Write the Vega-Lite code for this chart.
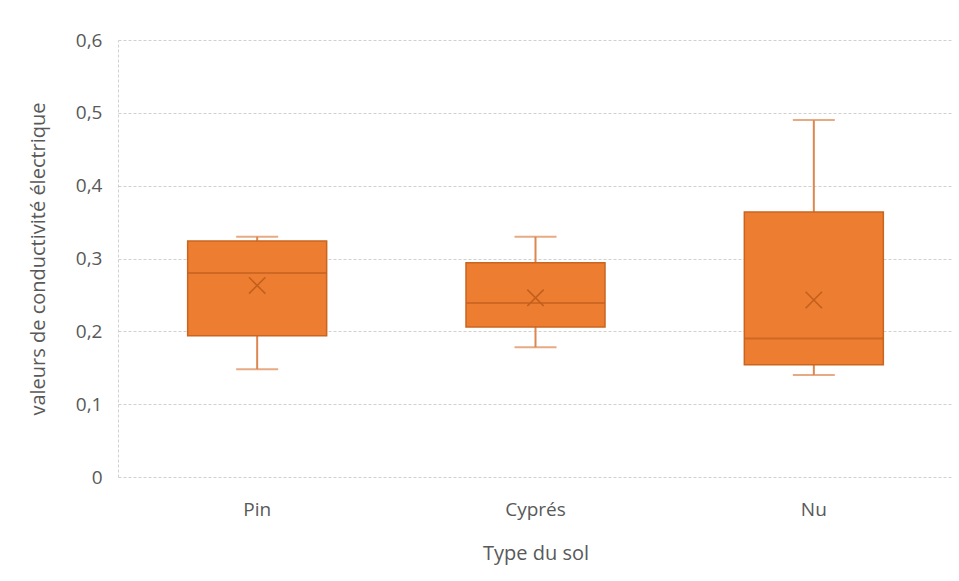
{
  "$schema": "https://vega.github.io/schema/vega-lite/v6.json",
  "autosize": {"type": "none"},
  "padding": {"left": 118, "top": 40, "right": 6, "bottom": 104},
  "width": 835,
  "height": 437,
  "background": "white",
  "data": {
    "values": [
      {"sol": "Pin", "min": 0.148, "q1": 0.194, "median": 0.28, "mean": 0.263, "q3": 0.324, "max": 0.33},
      {"sol": "Cyprés", "min": 0.178, "q1": 0.206, "median": 0.239, "mean": 0.246, "q3": 0.294, "max": 0.33},
      {"sol": "Nu", "min": 0.14, "q1": 0.154, "median": 0.19, "mean": 0.243, "q3": 0.364, "max": 0.49}
    ]
  },
  "encoding": {
    "x": {
      "field": "sol",
      "type": "nominal",
      "sort": null,
      "title": "Type du sol",
      "scale": {"paddingInner": 0, "paddingOuter": 0},
      "axis": {
        "labelAngle": 0,
        "domain": false,
        "ticks": false,
        "labelPadding": 23,
        "titlePadding": 24
      }
    }
  },
  "layer": [
    {
      "mark": {"type": "rule", "color": "#DC8751", "strokeWidth": 2},
      "encoding": {
        "y": {
          "field": "min",
          "type": "quantitative",
          "title": "valeurs de conductivité électrique",
          "scale": {"domain": [0, 0.6], "nice": false},
          "axis": {
            "values": [0, 0.1, 0.2, 0.3, 0.4, 0.5, 0.6],
            "labelExpr": "datum.value == 0 ? '0' : replace(format(datum.value, '.1f'), '.', ',')",
            "ticks": false,
            "labelPadding": 16,
            "titlePadding": 27
          }
        },
        "y2": {"field": "max"}
      }
    },
    {
      "mark": {"type": "tick", "color": "#DC8751", "thickness": 2, "size": 42},
      "encoding": {"y": {"field": "min", "type": "quantitative"}}
    },
    {
      "mark": {"type": "tick", "color": "#DC8751", "thickness": 2, "size": 42},
      "encoding": {"y": {"field": "max", "type": "quantitative"}}
    },
    {
      "mark": {"type": "bar", "color": "#ED7D31", "stroke": "#C9651F", "strokeWidth": 1.5, "width": 139},
      "encoding": {
        "y": {"field": "q1", "type": "quantitative"},
        "y2": {"field": "q3"}
      }
    },
    {
      "mark": {"type": "tick", "color": "#C2601C", "thickness": 2, "size": 139},
      "encoding": {"y": {"field": "median", "type": "quantitative"}}
    },
    {
      "mark": {
        "type": "point",
        "shape": "M-1,-1L1,1M-1,1L1,-1",
        "filled": false,
        "stroke": "#C2601C",
        "strokeWidth": 1.6,
        "size": 270,
        "opacity": 1
      },
      "encoding": {"y": {"field": "mean", "type": "quantitative"}}
    }
  ],
  "config": {
    "view": {"stroke": null},
    "font": "Open Sans",
    "axis": {
      "labelFont": "Open Sans",
      "titleFont": "Open Sans",
      "labelFontSize": 19,
      "titleFontSize": 20,
      "titleFontWeight": "normal",
      "labelColor": "#595959",
      "titleColor": "#595959",
      "gridColor": "#D0D0D0",
      "gridDash": [3, 2],
      "gridWidth": 1
    },
    "axisY": {
      "domain": true,
      "domainColor": "#D0D0D0",
      "domainDash": [3, 2],
      "domainWidth": 1,
      "grid": true
    },
    "axisX": {"grid": false}
  }
}
